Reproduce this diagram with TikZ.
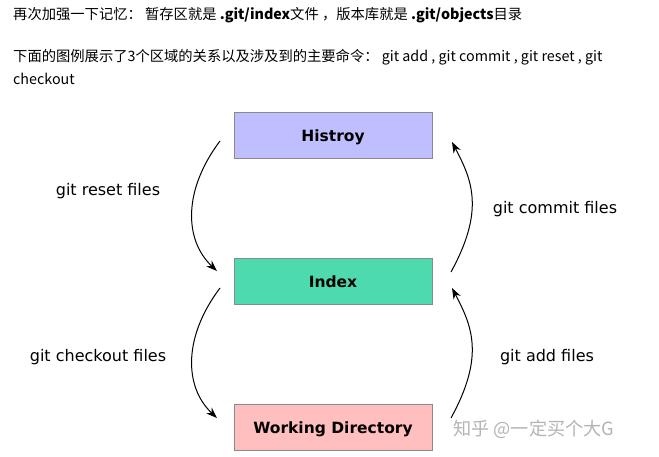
\documentclass[tikz,border=0pt]{standalone}
\usepackage{fontspec}
\setmainfont{Noto Sans CJK SC}
\newfontfamily\labelfont{DejaVu Sans}
\usetikzlibrary{arrows.meta}
\definecolor{histfill}{HTML}{BFBFFF}
\definecolor{indexfill}{HTML}{4DDAAF}
\definecolor{workfill}{HTML}{FFBFBF}
\definecolor{boxline}{HTML}{8A8A8A}
\definecolor{marktext}{HTML}{B4B4B4}
\tikzset{
  area/.style={draw=boxline, line width=1pt, minimum width=198pt, minimum height=46pt,
    inner sep=0pt, text height=13pt, text depth=0pt,
    font=\labelfont\bfseries\fontsize{15.5}{18}\selectfont},
  cmd/.style={font=\labelfont\fontsize{16}{19}\selectfont, inner sep=0pt},
  flow/.style={-{Stealth[length=11pt,width=8pt]}, line width=1pt},
  para/.style={anchor=west, inner sep=0pt, font=\fontsize{14.3}{17}\selectfont},
}
\begin{document}
\begin{tikzpicture}[x=1pt,y=-1pt]
\useasboundingbox (0,0) rectangle (659,456);
\fill[white] (0,0) rectangle (659,456);

% introductory text
\node[para] (l1) at (13,15) {再次加强一下记忆： 暂存区就是 \textbf{.git/index}文件 ，版本库就是 \textbf{.git/objects}目录};
\node[para] (l2) at (13,57) {下面的图例展示了3个区域的关系以及涉及到的主要命令： git add , git commit , git reset , git};
\node[para] (l3) at (13,79) {checkout};

% the three areas
\node[area, fill=histfill] (hist) at (333,135) {Histroy};
\node[area, fill=indexfill] (index) at (333,281) {Index};
\node[area, fill=workfill] (work) at (333,427) {Working Directory};

% free ends of the curved arrows
\coordinate (resetA) at (220,141);
\coordinate (resetB) at (217,271);
\coordinate (coA) at (220,288);
\coordinate (coB) at (217,418);
\coordinate (commitA) at (451,272);
\coordinate (commitB) at (452,142);
\coordinate (addA) at (451,418);
\coordinate (addB) at (452,288);

\draw[flow] (resetA) .. controls (183,190) and (184,240) .. (resetB);
\draw[flow] (coA) .. controls (183,337) and (184,387) .. (coB);
\draw[flow] (commitA) .. controls (485,210) and (472,180) .. (commitB);
\draw[flow] (addA) .. controls (485,356) and (472,326) .. (addB);

\node[cmd] (reset) at (108,191.5) {git reset files};
\node[cmd] (commit) at (555,209.5) {git commit files};
\node[cmd] (checkout) at (98,357.5) {git checkout files};
\node[cmd] (add) at (547,357.5) {git add files};

% watermark
\node[anchor=west, inner sep=0pt, text=marktext, font=\fontsize{18.2}{21}\selectfont] (mark) at (453,429) {知乎 @一定买个大G};
\end{tikzpicture}
\end{document}
